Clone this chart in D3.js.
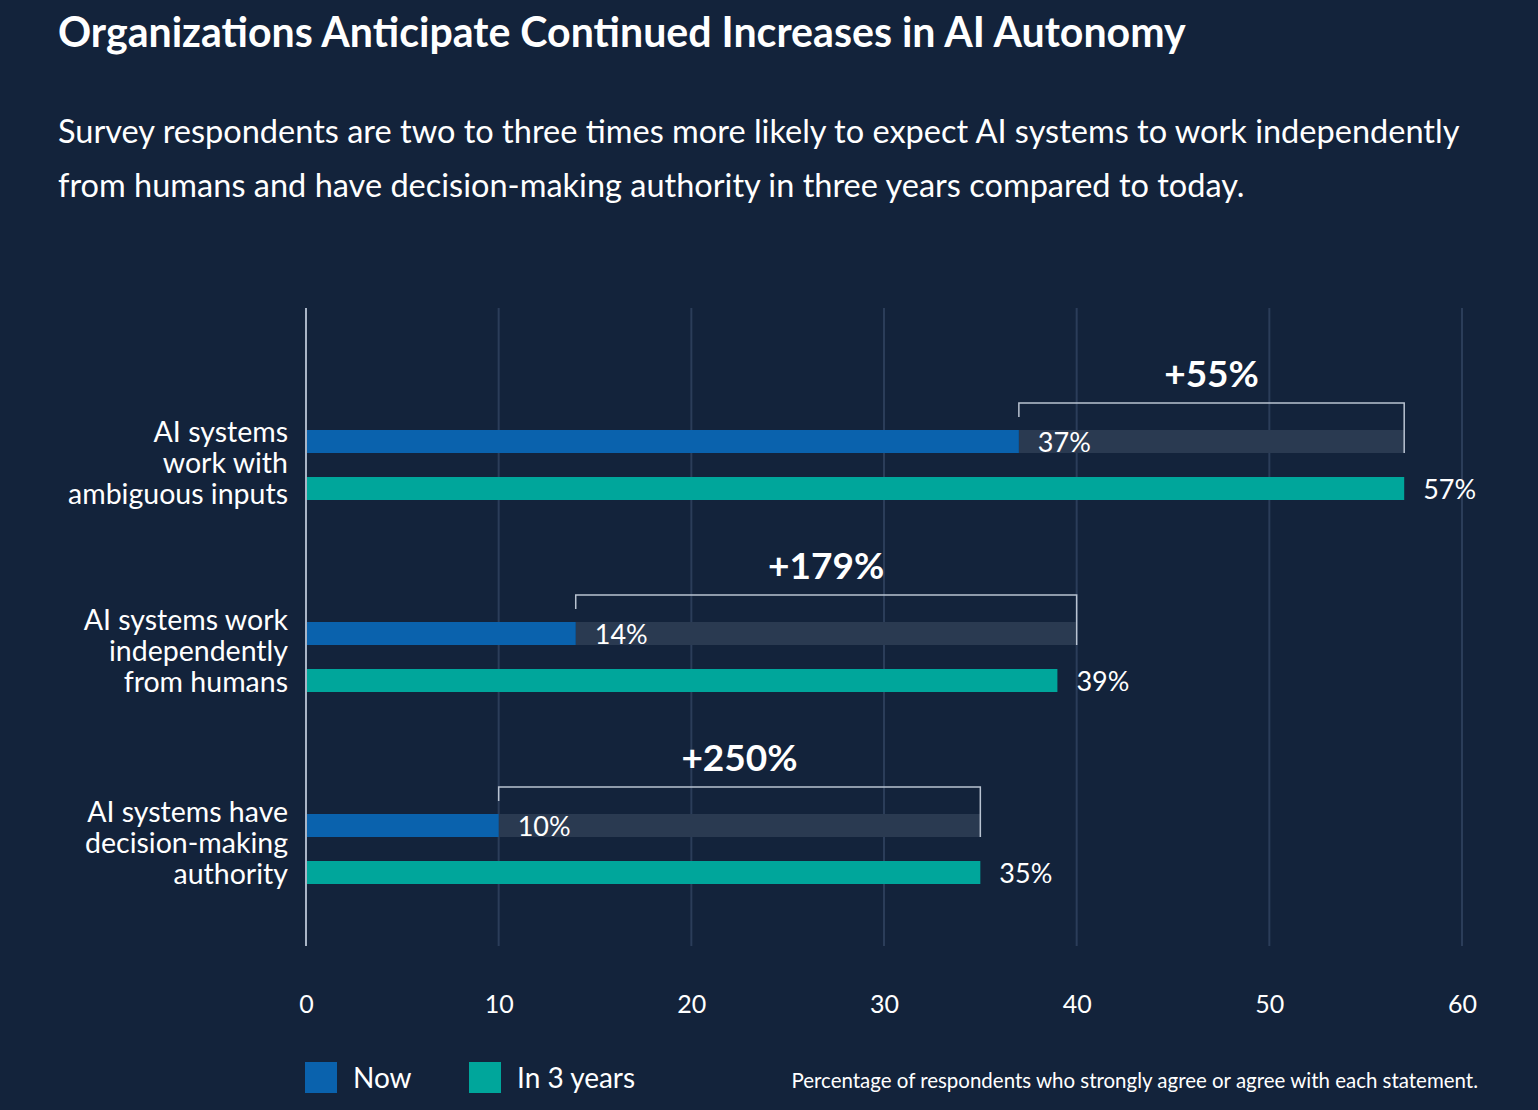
<!DOCTYPE html>
<html><head><meta charset="utf-8">
<script src="https://cdn.jsdelivr.net/npm/d3@7"></script>
<style>
html,body{margin:0;padding:0;background:#13233b;}
svg{display:block;}
text{font-family:Lato,"Open Sans",sans-serif;}
</style></head>
<body><svg id="c" width="1538" height="1110"></svg>
<script>
const categories = [
  ["AI systems", "work with", "ambiguous inputs"],
  ["AI systems work", "independently", "from humans"],
  ["AI systems have", "decision-making", "authority"]
];
const nowValues = [37, 14, 10];
const futureValues = [57, 39, 35];
const bracketEnds = [57, 40, 35];
const changeLabels = ["+55%", "+179%", "+250%"];
const xTicks = [0, 10, 20, 30, 40, 50, 60];
const seriesNames = ["Now", "In 3 years"];

const W = 1538, H = 1110;
const svg = d3.select("#c");
svg.append("rect").attr("width", W).attr("height", H).attr("fill", "#13233b");

const C = {now:"#0a62ad", fut:"#00a69b", track:"#2a3a51", grid:"#2b3d59", axis:"#a9b5c6", bracket:"#b9c3d1"};

function fitText(sel, width){
  const fs = parseFloat(sel.attr("font-size"));
  const w = sel.node().getComputedTextLength();
  sel.attr("font-size", fs * width / w);
}

// Title & subtitle
const t = svg.append("text").attr("x", 58).attr("y", 47).attr("fill", "#fff")
  .attr("font-weight", 700).attr("font-size", 36)
  .text("Organizations Anticipate Continued Increases in AI Autonomy");
fitText(t, 1128);
const s1 = svg.append("text").attr("x", 58).attr("y", 143).attr("fill", "#fff").attr("font-size", 32)
  .text("Survey respondents are two to three times more likely to expect AI systems to work independently");
fitText(s1, 1402);
svg.append("text").attr("x", 58).attr("y", 197).attr("fill", "#fff").attr("font-size", s1.attr("font-size"))
  .text("from humans and have decision-making authority in three years compared to today.");

const x = d3.scaleLinear().domain([0, 60]).range([306, 1462]);
const y = d3.scaleBand().domain(d3.range(categories.length)).range([368, 944]);
const plotTop = 308, plotBottom = 946;
const barH = 23;
const yNow = i => y(i) + y.bandwidth()/2 - 34;
const yFut = i => y(i) + y.bandwidth()/2 + 13;

// grid
svg.append("g").selectAll("line").data(xTicks.filter(d => d > 0)).join("line")
  .attr("x1", d => x(d)).attr("x2", d => x(d)).attr("y1", plotTop).attr("y2", plotBottom)
  .attr("stroke", C.grid).attr("stroke-width", 2);

// x axis labels via d3 axis
const xAxis = d3.axisBottom(x).tickValues(xTicks).tickSize(0).tickPadding(0).tickFormat(d3.format("d"));
const gx = svg.append("g").attr("transform", `translate(0,${plotBottom + 49})`).call(xAxis);
gx.select(".domain").remove();
gx.selectAll("text").attr("fill", "#fff").attr("font-size", 25).attr("font-family", "Lato, sans-serif").attr("dy", "0.71em");

// tracks
svg.append("g").selectAll("rect").data(nowValues).join("rect")
  .attr("x", d => x(d)).attr("y", (d, i) => yNow(i))
  .attr("width", (d, i) => x(bracketEnds[i]) - x(d)).attr("height", barH)
  .attr("fill", C.track);

// now bars
svg.append("g").selectAll("rect").data(nowValues).join("rect")
  .attr("x", x(0)).attr("y", (d, i) => yNow(i))
  .attr("width", d => x(d) - x(0)).attr("height", barH).attr("fill", C.now);

// future bars
svg.append("g").selectAll("rect").data(futureValues).join("rect")
  .attr("x", x(0)).attr("y", (d, i) => yFut(i))
  .attr("width", d => x(d) - x(0)).attr("height", barH).attr("fill", C.fut);

// zero axis line
svg.append("line").attr("x1", x(0)).attr("x2", x(0)).attr("y1", plotTop).attr("y2", plotBottom)
  .attr("stroke", C.axis).attr("stroke-width", 2);

// brackets
const gb = svg.append("g");
nowValues.forEach((v, i) => {
  const top = yNow(i) - 27;
  const e = bracketEnds[i];
  const p = d3.path();
  p.moveTo(x(v), top + 14); p.lineTo(x(v), top); p.lineTo(x(e), top); p.lineTo(x(e), yNow(i) + barH);
  gb.append("path").attr("d", p.toString()).attr("fill", "none").attr("stroke", C.bracket).attr("stroke-width", 1.5);
  gb.append("text").attr("x", (x(v) + x(e)) / 2).attr("y", top - 16)
    .attr("text-anchor", "middle").attr("fill", "#fff").attr("font-weight", 700).attr("font-size", 37)
    .text(changeLabels[i]);
});

// value labels
svg.append("g").selectAll("text").data(nowValues).join("text")
  .attr("x", d => x(d) + 19).attr("y", (d, i) => yNow(i) + barH/2 + 10)
  .attr("fill", "#fff").attr("font-size", 27).text(d => d + "%");
svg.append("g").selectAll("text").data(futureValues).join("text")
  .attr("x", d => x(d) + 19).attr("y", (d, i) => yFut(i) + barH/2 + 10)
  .attr("fill", "#fff").attr("font-size", 27).text(d => d + "%");

// category labels
const gc = svg.append("g");
const labelShift = [0, -4, -4];
categories.forEach((lines, i) => {
  const cy = y(i) + y.bandwidth()/2 + labelShift[i];
  const lh = 31;
  const tx = gc.append("text").attr("text-anchor", "end").attr("fill", "#fff").attr("font-size", 28.5);
  lines.forEach((ln, j) => {
    tx.append("tspan").attr("x", 288).attr("y", cy - lh + j * lh + 9).text(ln);
  });
});

// legend
const leg = svg.append("g");
const legX = [305, 469];
seriesNames.forEach((nm, i) => {
  leg.append("rect").attr("x", legX[i]).attr("y", 1062).attr("width", 32).attr("height", 31)
    .attr("fill", i === 0 ? C.now : C.fut);
  leg.append("text").attr("x", legX[i] + 48).attr("y", 1088).attr("fill", "#fff").attr("font-size", 28).text(nm);
});
const fn = svg.append("text").attr("x", 1478).attr("y", 1088).attr("text-anchor", "end").attr("fill", "#fff")
  .attr("font-size", 20).text("Percentage of respondents who strongly agree or agree with each statement.");
fitText(fn, 687);
</script></body></html>
